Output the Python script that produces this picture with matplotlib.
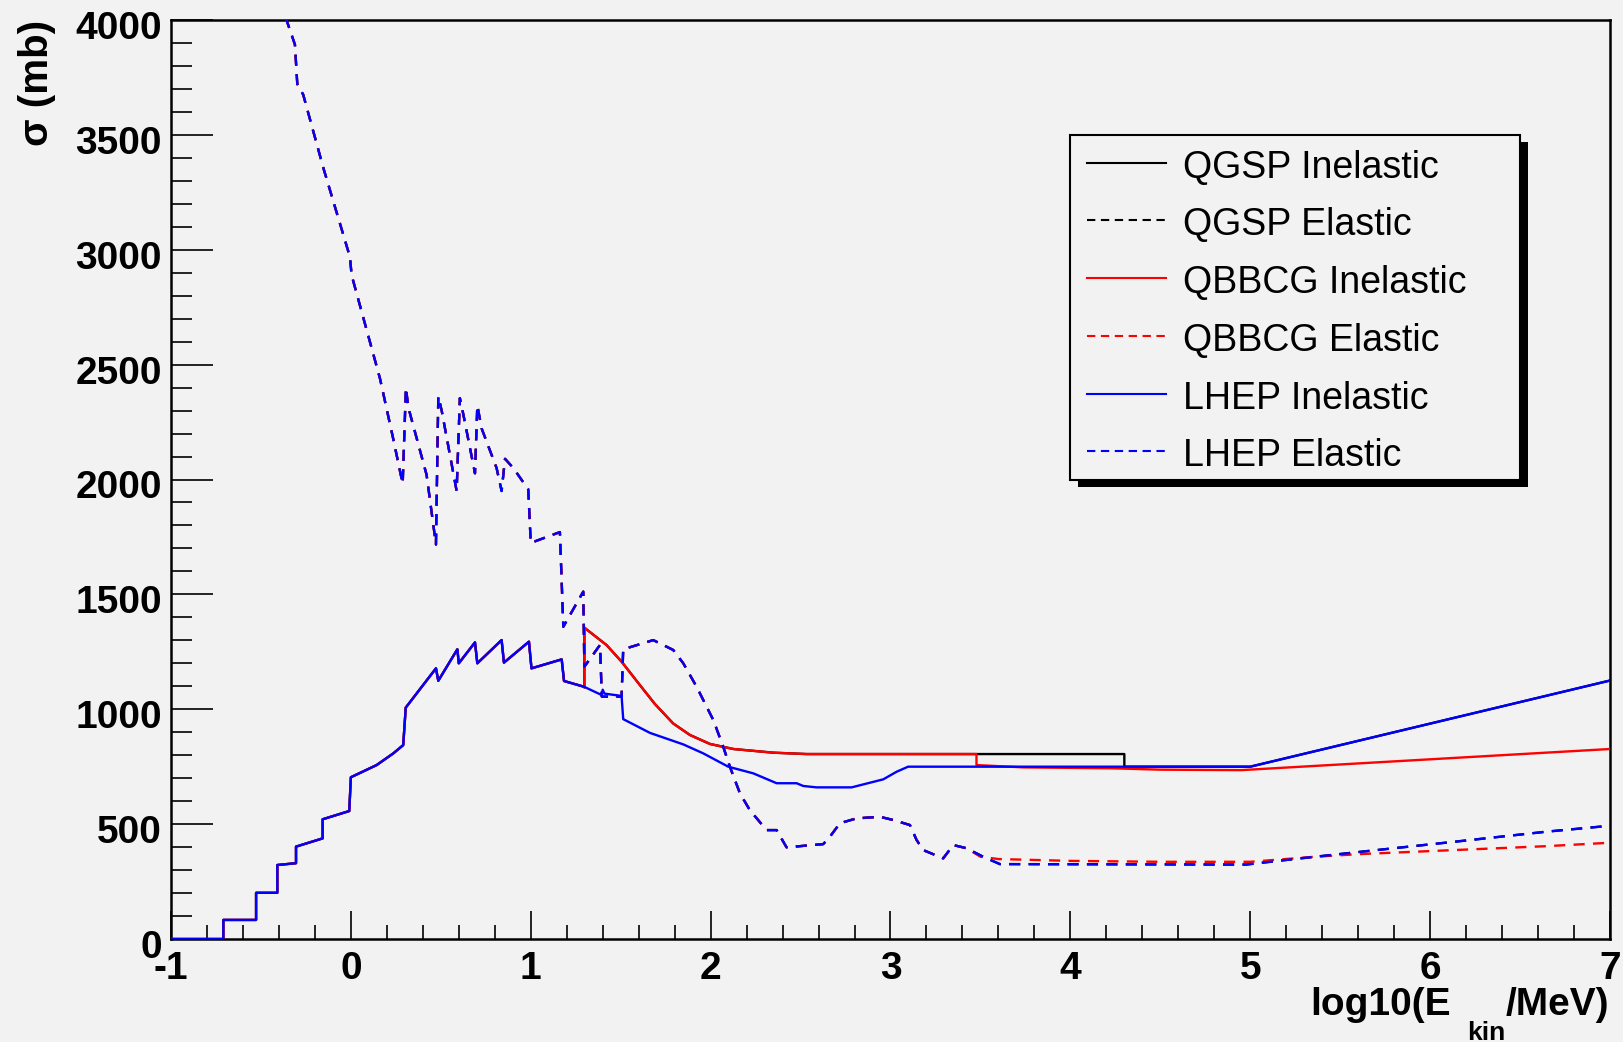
import numpy as np
import matplotlib.pyplot as plt
from matplotlib.lines import Line2D
from matplotlib.patches import Rectangle
from matplotlib.transforms import ScaledTranslation

plt.rcParams['font.family'] = ['Liberation Sans', 'DejaVu Sans']
plt.rcParams['axes.unicode_minus'] = False
plt.rcParams['lines.scale_dashes'] = False

# LHEP cross sections vs log10(Ekin/MeV)
lhep_inel_x = np.array([-1.0, -0.709, -0.709, -0.527, -0.527, -0.409, -0.409, -0.305, -0.305,
                        -0.157, -0.157, -0.009, 0.0, 0.143, 0.236, 0.291, 0.305, 0.473, 0.486,
                        0.592, 0.600, 0.690, 0.703, 0.838, 0.851, 0.990, 1.004, 1.172, 1.185,
                        1.296, 1.394, 1.400, 1.410, 1.505, 1.514, 1.663, 1.848, 1.959, 2.098,
                        2.237, 2.367, 2.478, 2.515, 2.589, 2.784, 2.960, 3.034, 3.098, 5.0, 7.0])
lhep_inel_y = np.array([0, 0, 83, 83, 201, 201, 322, 330, 402,
                        438, 521, 557, 704, 757, 808, 844, 1007, 1178, 1124,
                        1261, 1200, 1291, 1200, 1301, 1203, 1294, 1178, 1217, 1123,
                        1098, 1062, 1085, 1068, 1058, 957, 897, 847, 808, 750,
                        721, 678, 678, 666, 660, 660, 695, 728, 750, 750, 1125])

lhep_el_x = np.array([-0.5, -0.357, -0.311, -0.298, -0.265, -0.153, -0.005, 0.004, 0.162, 0.236,
                      0.288, 0.306, 0.319, 0.421, 0.473, 0.486, 0.505, 0.588, 0.606, 0.625,
                      0.690, 0.703, 0.727, 0.810, 0.838, 0.857, 0.903, 0.986, 1.0, 1.162,
                      1.181, 1.292, 1.298, 1.385, 1.395, 1.505, 1.514, 1.681, 1.792, 1.848,
                      1.922, 2.015, 2.070, 2.107, 2.163, 2.218, 2.311, 2.367, 2.422, 2.626,
                      2.663, 2.719, 2.811, 2.941, 3.015, 3.108, 3.145, 3.182, 3.293, 3.349,
                      3.423, 3.515, 3.608, 4.977, 5.233, 5.619, 6.132, 6.645, 7.0])
lhep_el_y = np.array([4320, 3998, 3893, 3722, 3675, 3356, 2968, 2890, 2439, 2175,
                      1981, 2400, 2315, 2020, 1717, 2362, 2299, 1950, 2354, 2284,
                      2027, 2323, 2222, 2050, 1950, 2090, 2050, 1957, 1724, 1771,
                      1359, 1512, 1185, 1280, 1055, 1055, 1261, 1301, 1258, 1200,
                      1098, 953, 837, 750, 634, 561, 474, 474, 399, 413,
                      445, 504, 525, 532, 518, 496, 431, 387, 351, 409,
                      395, 358, 326, 324, 347, 380, 423, 467, 493])

# QBBCG follows LHEP at low energy, own values above the switch points
qbbcg_inel_x = np.array([1.298, 1.298, 1.422, 1.505, 1.607, 1.690, 1.792, 1.885, 1.996, 2.126,
                         2.348, 2.534, 3.478, 3.478, 3.738, 4.23, 4.5, 4.95, 7.0])
qbbcg_inel_y = np.array([1095, 1355, 1279, 1207, 1105, 1023, 938, 888, 849, 827,
                         811, 805, 805, 757, 747, 743, 737, 735, 827])
qbbcg_el_x = np.array([3.50, 3.60, 4.0, 4.5, 5.0, 5.36, 5.619, 6.132, 6.645, 7.0])
qbbcg_el_y = np.array([358, 348, 340, 336, 336, 358, 370, 387, 404, 419])

# QGSP: QBBCG-like below 4.3, LHEP-like above
qgsp_inel_x = np.array([3.478, 4.30, 4.30])
qgsp_inel_y = np.array([805, 805, 750])

lo = lhep_inel_x < 1.298
qbbcg_inel_fx = np.concatenate([lhep_inel_x[lo], qbbcg_inel_x])
qbbcg_inel_fy = np.concatenate([lhep_inel_y[lo], qbbcg_inel_y])
lo = lhep_el_x < 3.5
qbbcg_el_fx = np.concatenate([lhep_el_x[lo], qbbcg_el_x])
qbbcg_el_fy = np.concatenate([lhep_el_y[lo], qbbcg_el_y])
lo = qbbcg_inel_fx < 3.478
hi = lhep_inel_x > 4.30
qgsp_inel_fx = np.concatenate([qbbcg_inel_fx[lo], qgsp_inel_x, lhep_inel_x[hi]])
qgsp_inel_fy = np.concatenate([qbbcg_inel_fy[lo], qgsp_inel_y, lhep_inel_y[hi]])
qgsp_el_fx, qgsp_el_fy = lhep_el_x, lhep_el_y

labels = ['QGSP Inelastic', 'QGSP Elastic', 'QBBCG Inelastic',
          'QBBCG Elastic', 'LHEP Inelastic', 'LHEP Elastic']

W, H = 1624, 1042
bg = '#f2f2f2'
fig = plt.figure(figsize=(W / 100, H / 100), dpi=100, facecolor=bg)
ax = fig.add_axes([171 / W, 1 - 939 / H, (1610 - 171) / W, (939 - 20) / H], facecolor=bg)

dash = (0, (8, 6))
series = [
    (qgsp_inel_fx, qgsp_inel_fy, 'black', '-'),
    (qgsp_el_fx, qgsp_el_fy, 'black', dash),
    (qbbcg_inel_fx, qbbcg_inel_fy, 'red', '-'),
    (qbbcg_el_fx, qbbcg_el_fy, 'red', dash),
    (lhep_inel_x, lhep_inel_y, 'blue', '-'),
    (lhep_el_x, lhep_el_y, 'blue', dash),
]
for x, y, c, ls in series:
    ax.plot(x, y, color=c, linestyle=ls, lw=1.7, zorder=3)

ax.set_xlim(-1, 7)
ax.set_ylim(0, 4000)
ax.set_xticks(np.arange(-1, 8, 1))
ax.set_xticks(np.arange(-1, 7.01, 0.2), minor=True)
ax.set_yticks(np.arange(0, 4001, 500))
ax.set_yticks(np.arange(0, 4001, 100), minor=True)
for s in ax.spines.values():
    s.set_linewidth(1.8)

ax.tick_params(axis='both', which='both', direction='in', width=1.2,
               top=False, right=False, labelsize=28)
ax.tick_params(axis='y', which='major', length=30, pad=6.5)
ax.tick_params(axis='y', which='minor', length=15)
ax.tick_params(axis='x', which='major', length=20, pad=8.5)
ax.tick_params(axis='x', which='minor', length=10)
ax.set_xticklabels([str(v) for v in range(-1, 8)], fontweight='bold')
ax.set_yticklabels([str(v) for v in range(0, 4001, 500)], fontweight='bold')
shift = ScaledTranslation(0, -5 / 100, fig.dpi_scale_trans)
for lab in ax.get_yticklabels():
    lab.set_transform(lab.get_transform() + shift)

# axis titles
fig.text(37 / W, 1 - 20 / H, 'σ (mb)', rotation=90, ha='center', va='top',
         fontsize=29, fontweight='bold')
t_unit = fig.text(1609 / W, 1 - 1015 / H, '/MeV)', ha='right', va='baseline',
                  fontsize=28, fontweight='bold')
t_kin = ax.annotate('kin', xy=(0, 0), xycoords=t_unit, xytext=(0, -22),
                    textcoords='offset pixels', ha='right', va='bottom',
                    fontsize=19, fontweight='bold', annotation_clip=False)
ax.annotate('log10(E', xy=(0, 0), xycoords=(t_kin, t_unit), xytext=(-16, 0),
            textcoords='offset pixels', ha='right', va='bottom',
            fontsize=28, fontweight='bold', annotation_clip=False)

# legend box with drop shadow
def fx(px):
    return px / W

def fy(py):
    return 1 - py / H

fig.patches.append(Rectangle((fx(1078), fy(487)), fx(450), 345 / H, transform=fig.transFigure,
                             facecolor='black', edgecolor='none', zorder=5))
fig.patches.append(Rectangle((fx(1070), fy(480)), fx(450), 345 / H, transform=fig.transFigure,
                             facecolor=bg, edgecolor='black', lw=1.5, zorder=6))
rows = [163, 220, 278, 336, 394, 451]
for (x, y, c, ls), lab, ry in zip(series, labels, rows):
    lls = (0, (6, 4)) if ls != '-' else '-'
    fig.lines.append(Line2D([fx(1087), fx(1166)], [fy(ry), fy(ry)], transform=fig.transFigure,
                            color=c, linestyle=lls, lw=1.5, zorder=7))
    fig.text(fx(1183), fy(ry + 15), lab, ha='left', va='baseline', fontsize=27, zorder=7)

fig.savefig('out.png', dpi=100, facecolor=bg)
